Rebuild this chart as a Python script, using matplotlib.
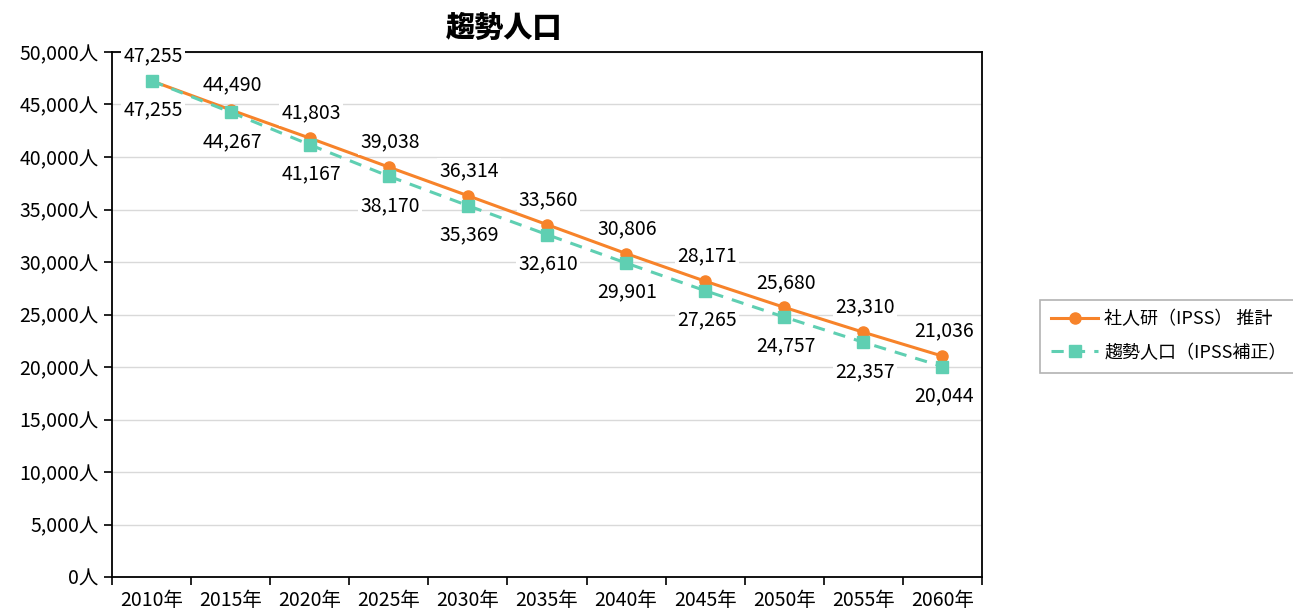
import matplotlib.pyplot as plt
from matplotlib.ticker import FuncFormatter, FixedLocator

plt.rcParams['font.family'] = ['Noto Sans CJK JP', 'DejaVu Sans']

years = ['2010年', '2015年', '2020年', '2025年', '2030年', '2035年',
         '2040年', '2045年', '2050年', '2055年', '2060年']
ipss = [47255, 44490, 41803, 39038, 36314, 33560, 30806, 28171, 25680, 23310, 21036]
trend = [47255, 44267, 41167, 38170, 35369, 32610, 29901, 27265, 24757, 22357, 20044]

orange = '#F7832A'
green = '#5FCFB2'

fig = plt.figure(figsize=(12.93, 6.13), dpi=100)
ax = fig.add_axes([112 / 1293, 36 / 613, 870 / 1293, 525 / 613])

x = list(range(len(years)))
ax.plot(x, ipss, color=orange, lw=2.2, marker='o', ms=8, label='社人研（IPSS） 推計', zorder=3)
ax.plot(x, trend, color=green, lw=2.2, ls=(0, (4, 3)), marker='s', ms=8,
        label='趨勢人口（IPSS補正）', zorder=3)

box = dict(facecolor='white', edgecolor='none', pad=1.5)
for i in x:
    ax.annotate(f'{ipss[i]:,}', (i, ipss[i]), xytext=(1, 18), textcoords='offset points',
                ha='center', va='center', fontsize=14, bbox=box, zorder=4,
                annotation_clip=False)
    ax.annotate(f'{trend[i]:,}', (i, trend[i]), xytext=(1, -21), textcoords='offset points',
                ha='center', va='center', fontsize=14, bbox=box, zorder=4,
                annotation_clip=False)

ax.set_xlim(-0.5, len(years) - 0.5)
ax.set_ylim(0, 50000)
ax.set_yticks(range(0, 50001, 5000))
ax.yaxis.set_major_formatter(FuncFormatter(lambda v, p: f'{int(v):,}人'))
ax.xaxis.set_major_locator(FixedLocator([i - 0.5 for i in range(len(years) + 1)]))
ax.xaxis.set_major_formatter(FuncFormatter(lambda v, p: ''))
ax.xaxis.set_minor_locator(FixedLocator(x))
ax.set_xticklabels(years, minor=True)
ax.tick_params(axis='x', which='minor', length=0, labelsize=14, pad=9)
ax.tick_params(axis='x', which='major', length=6, width=1.2)
ax.tick_params(axis='y', length=6, width=1.2, labelsize=14)
ax.grid(axis='y', color='#d9d9d9', lw=1)
ax.set_axisbelow(True)
for s in ax.spines.values():
    s.set_color('black')
    s.set_linewidth(1.3)

fig.text(504 / 1293, 1 - 28 / 613, '趨勢人口', fontsize=21, fontweight='heavy',
         ha='center', va='center')

leg = ax.legend(loc='center left', bbox_to_anchor=(1.067, 0.459), fontsize=13,
                frameon=True, fancybox=False, edgecolor='#a0a0a0', handlelength=2.6,
                borderpad=0.6, labelspacing=0.85, handletextpad=0.35, borderaxespad=0)
leg.get_frame().set_linewidth(1.2)

fig.savefig('out.png', dpi=100)
